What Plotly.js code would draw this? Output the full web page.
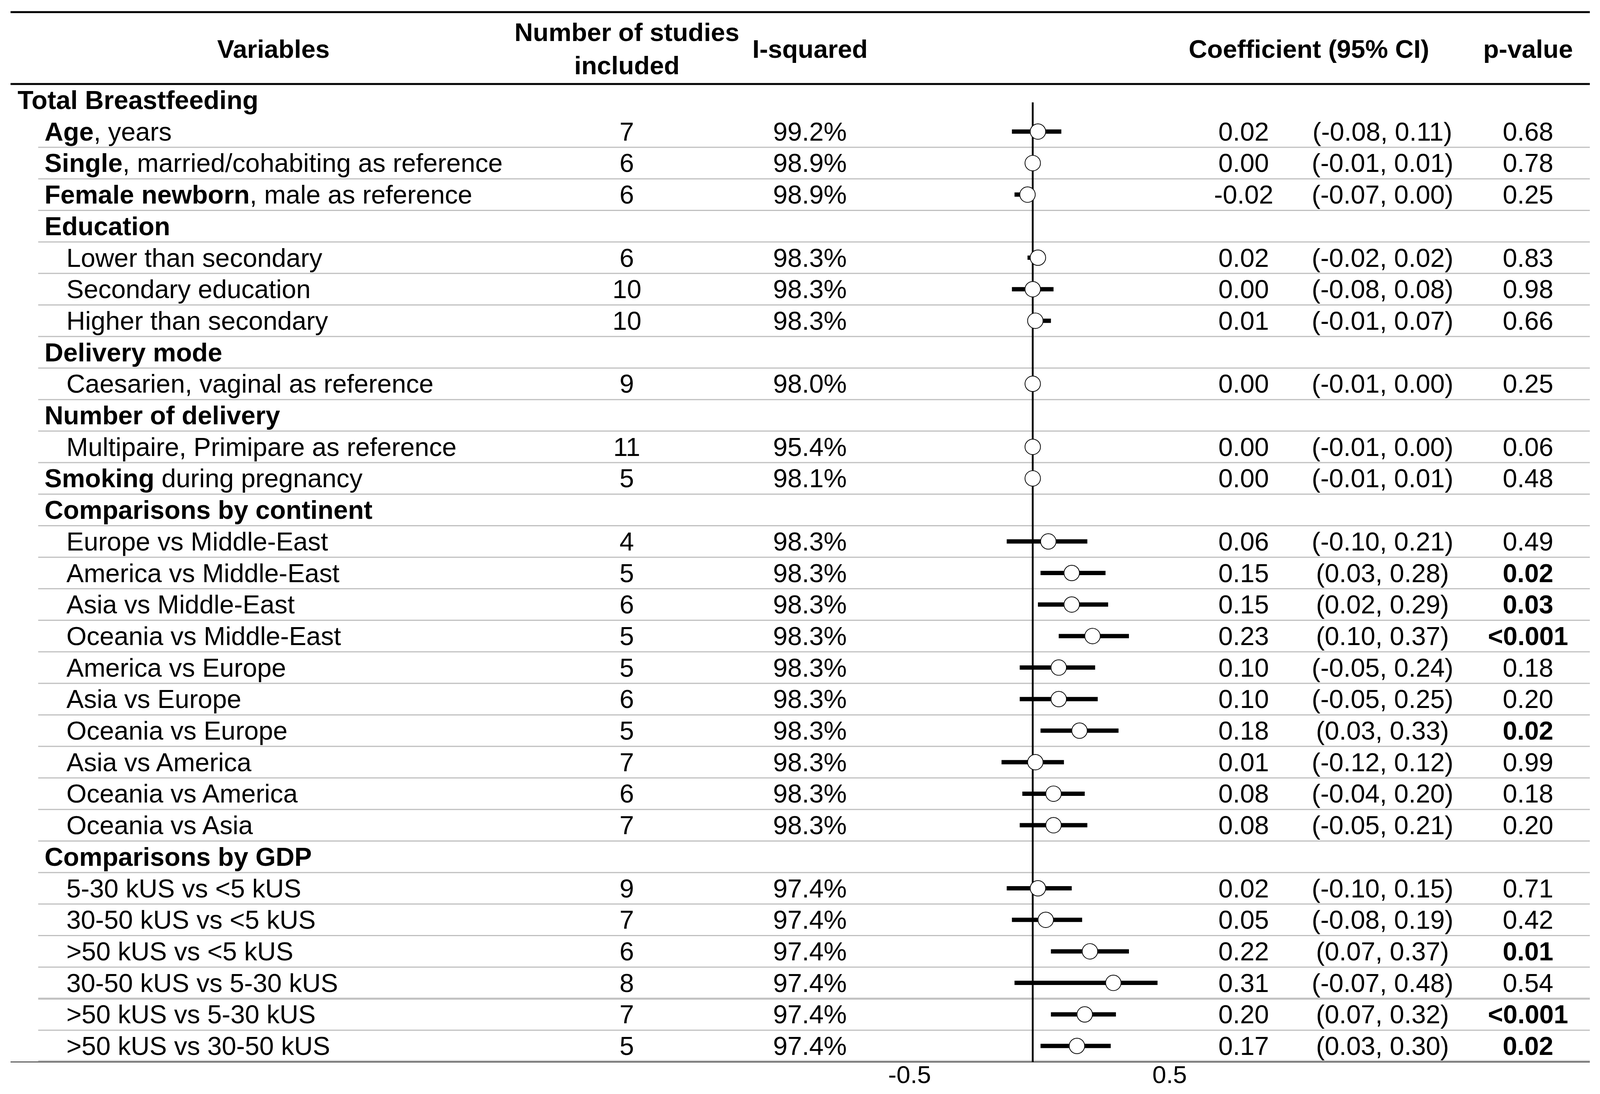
<!DOCTYPE html>
<html>
<head>
<meta charset="utf-8">
<script src="https://cdn.plot.ly/plotly-3.0.1.min.js"></script>
<style>
  html, body { margin: 0; padding: 0; background: #ffffff; overflow: hidden; }
  #chart { position: absolute; left: 0; top: 0; }
</style>
</head>
<body>
<div id="chart"></div>
<script>
// ---------------- DATA ----------------
const labels = [
  "<b>Total Breastfeeding</b>",
  "<b>Age</b>, years",
  "<b>Single</b>, married/cohabiting as reference",
  "<b>Female newborn</b>, male as reference",
  "<b>Education</b>",
  "Lower than secondary",
  "Secondary education",
  "Higher than secondary",
  "<b>Delivery mode</b>",
  "Caesarien, vaginal as reference",
  "<b>Number of delivery</b>",
  "Multipaire, Primipare as reference",
  "<b>Smoking</b> during pregnancy",
  "<b>Comparisons by continent</b>",
  "Europe vs Middle-East",
  "America vs Middle-East",
  "Asia vs Middle-East",
  "Oceania vs Middle-East",
  "America vs Europe",
  "Asia vs Europe",
  "Oceania vs Europe",
  "Asia vs America",
  "Oceania vs America",
  "Oceania vs Asia",
  "<b>Comparisons by GDP</b>",
  "5-30 kUS vs &lt;5 kUS",
  "30-50 kUS vs &lt;5 kUS",
  "&gt;50 kUS vs &lt;5 kUS",
  "30-50 kUS vs 5-30 kUS",
  "&gt;50 kUS vs 5-30 kUS",
  "&gt;50 kUS vs 30-50 kUS"
];
const levels = [0,1,1,1,1,2,2,2,1,2,1,2,1,1,2,2,2,2,2,2,2,2,2,2,1,2,2,2,2,2,2];

const nStudies = [null,7,6,6,null,6,10,10,null,9,null,11,5,null,4,5,6,5,5,6,5,7,6,7,null,9,7,6,8,7,5];
const iSquared = [null,99.2,98.9,98.9,null,98.3,98.3,98.3,null,98.0,null,95.4,98.1,null,
                  98.3,98.3,98.3,98.3,98.3,98.3,98.3,98.3,98.3,98.3,null,97.4,97.4,97.4,97.4,97.4,97.4];
const coef = [null,0.02,0.00,-0.02,null,0.02,0.00,0.01,null,0.00,null,0.00,0.00,null,
              0.06,0.15,0.15,0.23,0.10,0.10,0.18,0.01,0.08,0.08,null,0.02,0.05,0.22,0.31,0.20,0.17];
const ciLow = [null,-0.08,-0.01,-0.07,null,-0.02,-0.08,-0.01,null,-0.01,null,-0.01,-0.01,null,
               -0.10,0.03,0.02,0.10,-0.05,-0.05,0.03,-0.12,-0.04,-0.05,null,-0.10,-0.08,0.07,-0.07,0.07,0.03];
const ciHigh = [null,0.11,0.01,0.00,null,0.02,0.08,0.07,null,0.00,null,0.00,0.01,null,
                0.21,0.28,0.29,0.37,0.24,0.25,0.33,0.12,0.20,0.21,null,0.15,0.19,0.37,0.48,0.32,0.30];
const pValues = [null,"0.68","0.78","0.25",null,"0.83","0.98","0.66",null,"0.25",null,"0.06","0.48",null,
                 "0.49","0.02","0.03","<0.001","0.18","0.20","0.02","0.99","0.18","0.20",null,
                 "0.71","0.42","0.01","0.54","<0.001","0.02"];
const headers = ["Variables", "Number of studies<br>included", "I-squared", "Coefficient (95% CI)", "p-value"];
const xTickVals = [-0.5, 0.5];
const xTickText = ["-0.5", "0.5"];

// ---------------- GEOMETRY (reference pixels, mapped onto the viewport) ----------------
const BASE_W = 4400, BASE_H = 2800;
const W = window.innerWidth || BASE_W, H = window.innerHeight || BASE_H;
const sx = W / BASE_W, sy = H / BASE_H, sf = Math.sqrt(sx * sy);

const ROW0 = 256, ROWH = 80.7, PLOT_BOTTOM = 2719;
const ZERO_PX = 2840, PX_PER_UNIT = 715;
const FONT = "Liberation Sans, Arial, Helvetica, sans-serif";
const FS = 69, FS_HEAD = 68, FS_TICK = 66;

const pxX = p => p / BASE_W;                  // paper x from reference pixel
const pxY = p => (p - ROW0) / ROWH;           // y (row units) from reference pixel
const indentPx = [46, 120, 180];
const colNum = 1724, colI2 = 2227, colCoef = 3420, colCI = 3802, colP = 4202;
const headerCols = [752, 1724, 2227, 3600, 4202];

// ---------------- TRACES ----------------
const rows = labels.map((_, i) => i);
const ciX = [], ciY = [];
rows.forEach(i => {
  if (coef[i] !== null) { ciX.push(ciLow[i], ciHigh[i], null); ciY.push(i, i, null); }
});
const ptX = [], ptY = [];
rows.forEach(i => { if (coef[i] !== null) { ptX.push(coef[i]); ptY.push(i); } });

const traces = [
  { type: "scatter", mode: "lines", x: ciX, y: ciY, hoverinfo: "skip",
    line: { color: "#000000", width: 11 * sy }, showlegend: false },
  { type: "scatter", mode: "markers", x: ptX, y: ptY, hoverinfo: "skip",
    marker: { symbol: "circle", size: 41 * sf, color: "#ffffff", line: { color: "#000000", width: 2 * sf } },
    showlegend: false }
];

// ---------------- ANNOTATIONS ----------------
const ann = [];
const txt = (text, xpx, y, anchor, bold, size) => ann.push({
  text: bold ? "<b>" + text + "</b>" : text,
  xref: "paper", yref: "y", x: pxX(xpx), y: y,
  xanchor: anchor, yanchor: "middle", showarrow: false,
  font: { family: FONT, size: size * sf, color: "#000000" }
});
headers.forEach((h, k) => txt(h, headerCols[k], pxY(125), "center", true, FS_HEAD));
rows.forEach(i => {
  txt(labels[i], indentPx[levels[i]], i, "left", false, FS);
  if (nStudies[i] !== null) txt(String(nStudies[i]), colNum, i, "center", false, FS);
  if (iSquared[i] !== null) txt(iSquared[i].toFixed(1) + "%", colI2, i, "center", false, FS);
  if (coef[i] !== null) {
    txt(coef[i].toFixed(2), colCoef, i, "center", false, FS);
    txt("(" + ciLow[i].toFixed(2) + ", " + ciHigh[i].toFixed(2) + ")", colCI, i, "center", false, FS);
  }
  if (pValues[i] !== null) {
    const p = pValues[i];
    const sig = p.charAt(0) === "<" || parseFloat(p) < 0.05;
    txt(p.replace("<", "&lt;"), colP, i, "center", sig, FS);
  }
});

// ---------------- SHAPES ----------------
const shapes = [];
const hline = (ypx, x0, x1, color, width) => shapes.push({
  type: "line", layer: "below", xref: "paper", yref: "y",
  x0: pxX(x0), x1: pxX(x1), y0: pxY(ypx), y1: pxY(ypx),
  line: { color: color, width: width * sy }
});
for (let i = 1; i < labels.length - 1; i++) {
  hline(ROW0 + ROWH * (i + 0.5), 105, 4372, "#c0c0c0", i === 28 ? 5 : 3);
}
hline(31, 29, 4372, "#000000", 5);
hline(215, 29, 4372, "#000000", 5);
hline(PLOT_BOTTOM - 4, 105, 4372, "#c0c0c0", 3);
hline(PLOT_BOTTOM, 29, 4372, "#222222", 4);
shapes.push({
  type: "line", layer: "below", xref: "x", yref: "y",
  x0: 0, x1: 0, y0: pxY(262), y1: pxY(PLOT_BOTTOM),
  line: { color: "#000000", width: 5 * sx }
});

// ---------------- LAYOUT ----------------
const NBSP = "\u00A0";
const layout = {
  width: W, height: H,
  margin: { l: 0, r: 0, t: 0, b: (BASE_H - PLOT_BOTTOM) * sy, pad: 0 },
  paper_bgcolor: "#ffffff", plot_bgcolor: "#ffffff",
  showlegend: false,
  font: { family: FONT, size: FS * sf, color: "#000000" },
  xaxis: {
    range: [-ZERO_PX / PX_PER_UNIT, (BASE_W - ZERO_PX) / PX_PER_UNIT],
    tickvals: xTickVals, ticktext: xTickText.map(t => NBSP + NBSP + t), ticks: "",
    showgrid: false, zeroline: false, showline: false,
    anchor: "free", position: 12 / PLOT_BOTTOM,
    tickfont: { family: FONT, size: FS_TICK * sf, color: "#000000" },
    fixedrange: true
  },
  yaxis: {
    range: [(PLOT_BOTTOM - ROW0) / ROWH, -ROW0 / ROWH],
    visible: false, showgrid: false, zeroline: false, fixedrange: true
  },
  annotations: ann,
  shapes: shapes
};

document.getElementById("chart").style.width = W + "px";
document.getElementById("chart").style.height = H + "px";
Plotly.newPlot("chart", traces, layout, { staticPlot: true, displayModeBar: false });
</script>
</body>
</html>
